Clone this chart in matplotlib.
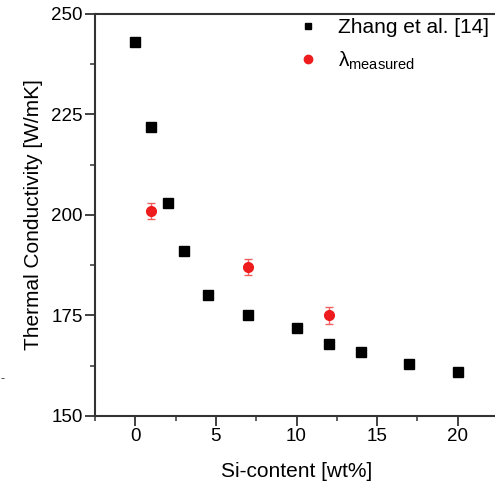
import numpy as np
import matplotlib
matplotlib.use('Agg')
import matplotlib.pyplot as plt
from matplotlib.lines import Line2D

plt.rcParams['font.family'] = ['Liberation Sans', 'DejaVu Sans']
plt.rcParams['mathtext.fontset'] = 'custom'
plt.rcParams['mathtext.rm'] = 'Liberation Sans'
plt.rcParams['mathtext.it'] = 'Liberation Sans'

# Zhang et al. reference data
zhang_si = [0, 1, 2, 3, 4.5, 7, 10, 12, 14, 17, 20]
zhang_tc = [243, 222, 203, 191, 180, 175, 172, 168, 166, 163, 161]

# measured values
meas_si = [1, 7, 12]
meas_tc = [201, 187, 175]
meas_err = [2, 2, 2]

fig = plt.figure(figsize=(4.95, 4.82), dpi=100)
ax = fig.add_axes([0.192, 0.137, 0.814, 0.834])

ax.plot(zhang_si, zhang_tc, 's', color='black', markersize=7)
ax.errorbar(meas_si, meas_tc, yerr=meas_err, fmt='o', color='#ee1c1c', ecolor='#f06060',
            markersize=7, capsize=3, elinewidth=1)

ax.set_xlim(-2.5, 22.5)
ax.set_ylim(150, 250)
ax.set_xticks([0, 5, 10, 15, 20])
ax.set_xticks([-2.5, 2.5, 7.5, 12.5, 17.5, 22.5], minor=True)
ax.set_yticks([150, 175, 200, 225, 250])
ax.set_yticks([162.5, 187.5, 212.5, 237.5], minor=True)

for s in ['left', 'bottom', 'top']:
    ax.spines[s].set_linewidth(1.5)
    ax.spines[s].set_color('#333333')
ax.spines['right'].set_visible(False)

ax.tick_params(which='major', direction='out', length=7, width=1.3, color='#333333',
               labelsize=13.5, pad=2)
ax.tick_params(which='minor', direction='out', length=3.5, width=1.1, color='#333333')

ax.set_xlabel('Si-content [wt%]', fontsize=15, labelpad=12)
ax.set_ylabel('Thermal Conductivity [W/mK]', fontsize=15, labelpad=6)

handles = [Line2D([], [], ls='none', marker='s', color='black', markersize=5),
           Line2D([], [], ls='none', marker='o', color='#ee1c1c', markersize=6)]
labels = ['Zhang et al. [14]', r'$\mathrm{\lambda}_{\mathrm{measured}}$']
ax.legend(handles, labels, loc='upper left', bbox_to_anchor=(0.503, 0.99), frameon=False,
          fontsize=15, numpoints=1, handlelength=1.0, handletextpad=0.94,
          borderpad=0, borderaxespad=0, labelspacing=0.6)

fig.text(0.002, 0.208, '-', fontsize=9, color='#333333')

fig.savefig('out.png', dpi=100)
